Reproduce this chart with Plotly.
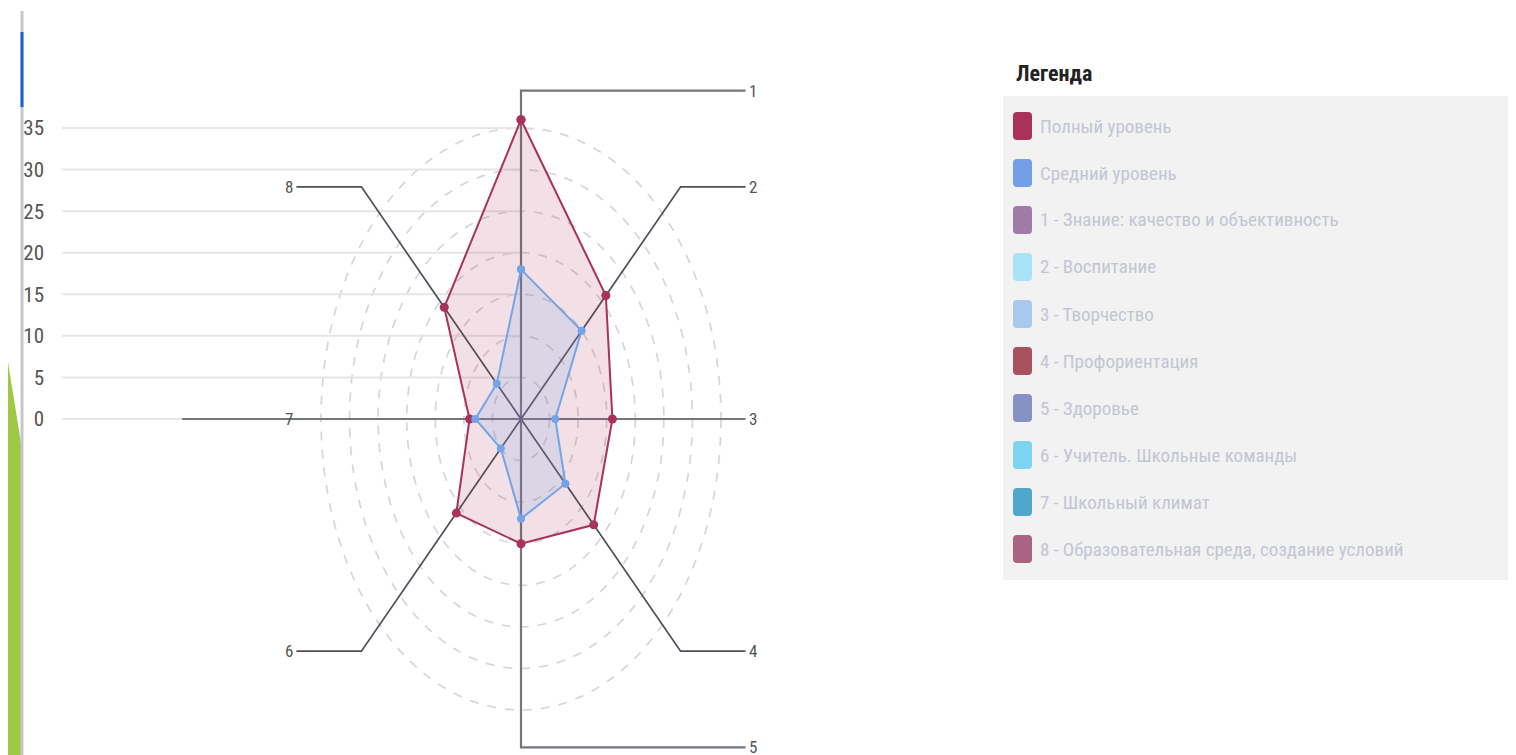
import numpy as np
import plotly.graph_objects as go

# ---------------- data ----------------
categories = ["1", "2", "3", "4", "5", "6", "7", "8"]
full_level = [36, 21, 16, 18, 15, 16, 9, 19]      # Полный уровень
mid_level = [18, 15, 6, 11, 12, 5, 8, 6]          # Средний уровень
y_ticks = [0, 5, 10, 15, 20, 25, 30, 35]
ring_levels = [5, 10, 15, 20, 25, 30, 35]
legend_title = "Легенда"
legend_names = [
    "Полный уровень",
    "Средний уровень",
    "1 - Знание: качество и объективность",
    "2 - Воспитание",
    "3 - Творчество",
    "4 - Профориентация",
    "5 - Здоровье",
    "6 - Учитель. Школьные команды",
    "7 - Школьный климат",
    "8 - Образовательная среда, создание условий",
]
legend_colors = ["#A8325A", "#739FE6", "#A07BA8", "#A9E3F6", "#A9C9EC",
                 "#A8525F", "#8593C4", "#7DD4F0", "#4FA8CC", "#AA6482"]

# ---------------- geometry helpers ----------------
W, H = 1516, 755
OFF = 8  # page body margin
FONT = "Liberation Sans Narrow, Roboto Condensed, Arial Narrow, Roboto, sans-serif"
XSCALE, YSCALE = 5.714, 8.314   # px per unit
CX, CY = 521 - OFF, 419 - OFF   # center in figure px
PL, PR = 62 - OFF, 1000 - OFF   # plot area left/right in figure px
XMIN, XMAX = -(CX - PL) / XSCALE, (PR - CX) / XSCALE
YMAX = CY / YSCALE
YMIN = YMAX - H / YSCALE
SPOKE_R = 39.5
LABEL_X = 39.3

theta = np.deg2rad(np.arange(len(categories)) * 45.0)


def to_xy(vals):
    r = np.asarray(vals, dtype=float)
    x = r * np.sin(theta)
    y = r * np.cos(theta)
    return np.append(x, x[0]), np.append(y, y[0])


def px(xp):
    return (xp - OFF) / W


def py(yp):
    return 1 - (yp - OFF) / H


fig = go.Figure()

# spokes with leader lines to labels
annotations = []
for i, cat in enumerate(categories):
    ex, ey = SPOKE_R * np.sin(theta[i]), SPOKE_R * np.cos(theta[i])
    if abs(ex) < 1e-6:
        ex = 0.0
    right = ex >= 0
    diagonal = i % 2 == 1
    if i == 6:
        xs, ys = [0, -59.3], [0, 0]
        lx, ly, side = -LABEL_X, 0, "right"
    elif i == 2:
        xs, ys = [0, LABEL_X], [0, 0]
        lx, ly, side = LABEL_X, 0, "left"
    else:
        if right:
            xs, ys = [0, ex, LABEL_X], [0, ey, ey]
            lx, ly, side = LABEL_X, ey, "left"
        else:
            xs, ys = [0, ex, -LABEL_X], [0, ey, ey]
            lx, ly, side = -LABEL_X, ey, "right"
    fig.add_trace(go.Scatter(x=xs, y=ys, mode="lines",
                             line=dict(color="#4c4f5b" if diagonal else "#73767f",
                                       width=1.7 if diagonal else 2.2),
                             hoverinfo="skip", showlegend=False))
    annotations.append(dict(x=lx, y=ly, xref="x", yref="y", text=cat,
                            showarrow=False, xanchor=side, yanchor="middle",
                            xshift=1 if side == "left" else -1,
                            font=dict(family=FONT, size=17, color="#555555")))

# series
fx, fy = to_xy(full_level)
fig.add_trace(go.Scatter(x=fx, y=fy, mode="lines+markers", fill="toself",
                         fillcolor="rgba(168,50,90,0.15)",
                         line=dict(color="#A8325A", width=2),
                         marker=dict(color="#A8325A", size=9),
                         name="Полный уровень", showlegend=False))
mx, my = to_xy(mid_level)
fig.add_trace(go.Scatter(x=mx, y=my, mode="lines+markers", fill="toself",
                         fillcolor="rgba(116,164,232,0.18)",
                         line=dict(color="#74A4E8", width=2),
                         marker=dict(color="#74A4E8", size=8),
                         name="Средний уровень", showlegend=False))

shapes = []
# dashed elliptical rings (circles in data units)
for r in ring_levels:
    shapes.append(dict(type="circle", xref="x", yref="y", x0=-r, x1=r, y0=-r, y1=r,
                       line=dict(color="#d6d6d6", width=1.7, dash="dash"),
                       layer="below"))
# horizontal gridlines from left edge to center
for v in y_ticks:
    shapes.append(dict(type="line", xref="x", yref="y", x0=XMIN, x1=0, y0=v, y1=v,
                       line=dict(color="#e6e6e6", width=2), layer="below"))

# slide decorations on the left
shapes.append(dict(type="path", xref="paper", yref="paper",
                   path=f"M {px(0)},{py(312)} L {px(21)},{py(443)} L {px(21)},{py(763)} L {px(0)},{py(763)} Z",
                   fillcolor="#9FC845", line=dict(width=0), layer="below"))
shapes.append(dict(type="line", xref="paper", yref="paper", x0=px(22), x1=px(22),
                   y0=py(11), y1=py(763), line=dict(color="#c6c7cc", width=3)))
shapes.append(dict(type="line", xref="paper", yref="paper", x0=px(22), x1=px(22),
                   y0=py(32), y1=py(107), line=dict(color="#1f5fd6", width=3)))

# legend panel
shapes.append(dict(type="rect", xref="paper", yref="paper", x0=px(1003), x1=px(1530),
                   y0=py(96), y1=py(580), fillcolor="#f2f2f2", line=dict(width=0),
                   layer="below"))
annotations.append(dict(x=px(1014), y=py(73), xref="paper", yref="paper",
                        text="<b>" + legend_title + "</b>", showarrow=False,
                        xanchor="left", yanchor="middle",
                        font=dict(family=FONT, size=22, color="#222222")))
row0, step = 126, 47
for k, (name, col) in enumerate(zip(legend_names, legend_colors)):
    cy = row0 + k * step
    x0, x1, y0, y1, rr = 1013, 1032, cy - 14, cy + 14, 4
    path = (f"M {px(x0+rr)},{py(y0)} L {px(x1-rr)},{py(y0)} "
            f"Q {px(x1)},{py(y0)} {px(x1)},{py(y0+rr)} L {px(x1)},{py(y1-rr)} "
            f"Q {px(x1)},{py(y1)} {px(x1-rr)},{py(y1)} L {px(x0+rr)},{py(y1)} "
            f"Q {px(x0)},{py(y1)} {px(x0)},{py(y1-rr)} L {px(x0)},{py(y0+rr)} "
            f"Q {px(x0)},{py(y0)} {px(x0+rr)},{py(y0)} Z")
    shapes.append(dict(type="path", xref="paper", yref="paper", path=path,
                       fillcolor=col, line=dict(width=0)))
    annotations.append(dict(x=px(1038), y=py(cy), xref="paper", yref="paper",
                            text=name, showarrow=False, xanchor="left", yanchor="middle",
                            font=dict(family=FONT, size=19, color="#c2c6d2")))

fig.update_layout(
    width=W, height=H,
    margin=dict(l=0, r=0, t=0, b=0),
    paper_bgcolor="white", plot_bgcolor="rgba(0,0,0,0)",
    showlegend=False,
    xaxis=dict(domain=[PL / W, PR / W], range=[XMIN, XMAX], visible=False,
               fixedrange=True),
    yaxis=dict(domain=[0, 1], range=[YMIN, YMAX], tickvals=y_ticks,
               showgrid=False, zeroline=False, showline=False, ticks="",
               ticklabelstandoff=17, automargin=False,
               tickfont=dict(family=FONT, size=21, color="#555555"), fixedrange=True),
    shapes=shapes,
    annotations=annotations,
)

fig.write_html("out.html")
